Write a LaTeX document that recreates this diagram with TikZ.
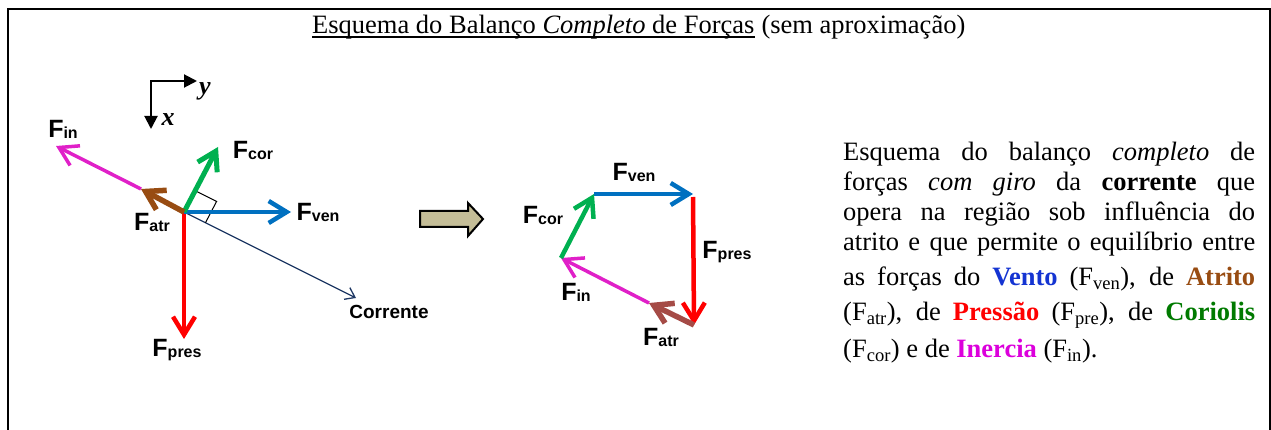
\documentclass[tikz,border=0pt]{standalone}
\usepackage{fontspec}
\setmainfont{Liberation Serif}
\setsansfont{Liberation Sans}
\usetikzlibrary{arrows.meta,positioning,calc}

\definecolor{venblue}{HTML}{0070C0}
\definecolor{presred}{HTML}{FF0000}
\definecolor{corgreen}{HTML}{00B050}
\definecolor{atrbrown}{HTML}{984C12}
\definecolor{atrbrick}{HTML}{A54B46}
\definecolor{inmagenta}{HTML}{E020C8}
\definecolor{curnavy}{HTML}{1F3864}
\definecolor{khaki}{HTML}{C4BD97}
\definecolor{txtblue}{HTML}{1434D2}
\definecolor{txtbrown}{HTML}{984C12}
\definecolor{txtgreen}{HTML}{007A00}
\definecolor{txtmagenta}{HTML}{DC00DC}

\newcommand{\flab}[1]{F\raisebox{-1pt}{\fontsize{16}{16}\selectfont #1}}

\begin{document}
\begin{tikzpicture}[x=1pt, y=-1pt,
  force/.style={line width=4.5pt, -{Straight Barb[length=18pt,width=22pt]}},
  flabel/.style={font=\sffamily\bfseries\fontsize{25}{25}\selectfont, inner sep=0pt},
  axis/.style={line width=2pt, {Triangle[length=13pt,width=13pt]}-{Triangle[length=13pt,width=13pt]}},
  axlabel/.style={font=\bfseries\itshape\fontsize{26}{26}\selectfont, inner sep=0pt}]

\useasboundingbox (0,0) rectangle (1271,430);

% Frame and title
\draw[line width=2.5pt] (8,430) -- (8,9) -- (1270,9) -- (1270,430);
\node[anchor=base west, inner sep=0pt, font=\fontsize{26.5}{30}\selectfont] (title) at (312,34)
  {Esquema do Balanço \textit{Completo} de Forças};
\node[anchor=base west, inner sep=0pt, font=\fontsize{26.5}{30}\selectfont] (titlenote)
  at ([xshift=6.6pt]title.base east) {(sem aproximação)};
\draw[line width=1.5pt] ([yshift=-3pt]title.base west) -- ([yshift=-3pt]title.base east);

% Axes
\coordinate (axcorner) at (151,81);
\coordinate (axy) at (197,81);
\coordinate (axx) at (151,129);
\draw[axis] (axx) -- (axcorner) -- (axy);
\node[axlabel] (ylab) at (205,91) {y};
\node[axlabel] (xlab) at (168,120) {x};

% Forces on the current (left)
\coordinate (O) at (184,212);
\coordinate (pres) at (184,339);
\coordinate (ven) at (291,212);
\coordinate (cor) at (218,147);
\coordinate (atr) at (141,189);
\coordinate (in) at (56,146);
\coordinate (cur) at (356,298);

\draw[curnavy, line width=1.3pt, -{Straight Barb[length=9pt,width=13pt]}] (O) -- (cur);
\coordinate (sqa) at ($(O)!24pt!(cor)$);
\coordinate (sqb) at ($(O)!24pt!(cur)$);
\draw[line width=1pt] (sqa) -- ($(sqa)+(sqb)-(O)$) -- (sqb);

\draw[force, presred] (O) -- (pres);
\draw[force, venblue] (O) -- (ven);
\draw[force, corgreen, line width=5pt] (O) -- (cor);
\draw[force, inmagenta, line width=3.5pt] (atr) -- (in);
\draw[force, atrbrown, line width=5.5pt] (O) -- (atr);

\node[flabel] (lpres) at (177,350) {\flab{pres}};
\node[flabel] (lven) at (318,212) {\flab{ven}};
\node[flabel] (lcor) at (253,150) {\flab{cor}};
\node[flabel] (latr) at (152,222) {\flab{atr}};
\node[flabel] (lin) at (63,129) {\flab{in}};
\node[font=\sffamily\bfseries\fontsize{19}{19}\selectfont, inner sep=0pt] (lcur) at (389,312) {Corrente};

% Block arrow
\draw[fill=khaki, line width=2pt] (420,211) -- (468,211) -- (468,203) -- (483,219)
  -- (468,236) -- (468,227) -- (420,227) -- cycle;

% Closed polygon of forces (right)
\coordinate (r1) at (594,194);
\coordinate (r2) at (693,194);
\coordinate (r3) at (694,325);
\coordinate (r4) at (649,303);
\coordinate (r5) at (561,258);

\draw[force, venblue] (r1) -- (r2);
\draw[force, presred, shorten <=3pt] (r2) -- (r3);
\draw[force, inmagenta, line width=3.5pt] (r4) -- (r5);
\draw[force, atrbrick, line width=5.5pt] (r3) -- (r4);
\draw[force, corgreen] (r5) -- (r1);

\node[flabel] (rven) at (634,172) {\flab{ven}};
\node[flabel] (rpres) at (727,252) {\flab{pres}};
\node[flabel] (ratr) at (661,337) {\flab{atr}};
\node[flabel] (rin) at (576,292) {\flab{in}};
\node[flabel] (rcor) at (543,215) {\flab{cor}};

% Description
\node[anchor=base west, inner sep=0pt, text width=412pt, align=justify,
  font=\fontsize{26.5}{30}\selectfont] (desc) at (843,161)
  {\spaceskip=0.25em plus 1em minus 0.1em\relax \tolerance=10000\relax
   Esquema do balanço \textit{completo} de\linebreak
   forças \textit{com giro} da \textbf{corrente} que\linebreak
   opera na região sob influência do\linebreak
   atrito e que permite o equilíbrio entre\vadjust{\vskip5pt}\linebreak
   as forças do \textbf{\textcolor{txtblue}{Vento}} (F\textsubscript{ven}), de \textbf{\textcolor{txtbrown}{Atrito}}\vadjust{\vskip5pt}\linebreak
   (F\textsubscript{atr}), de \textbf{\textcolor{presred}{Pressão}} (F\textsubscript{pre}), de \textbf{\textcolor{txtgreen}{Coriolis}}\vadjust{\vskip7pt}\linebreak
   (F\textsubscript{cor}) e de \textbf{\textcolor{txtmagenta}{Inercia}} (F\textsubscript{in}).};

\end{tikzpicture}
\end{document}
